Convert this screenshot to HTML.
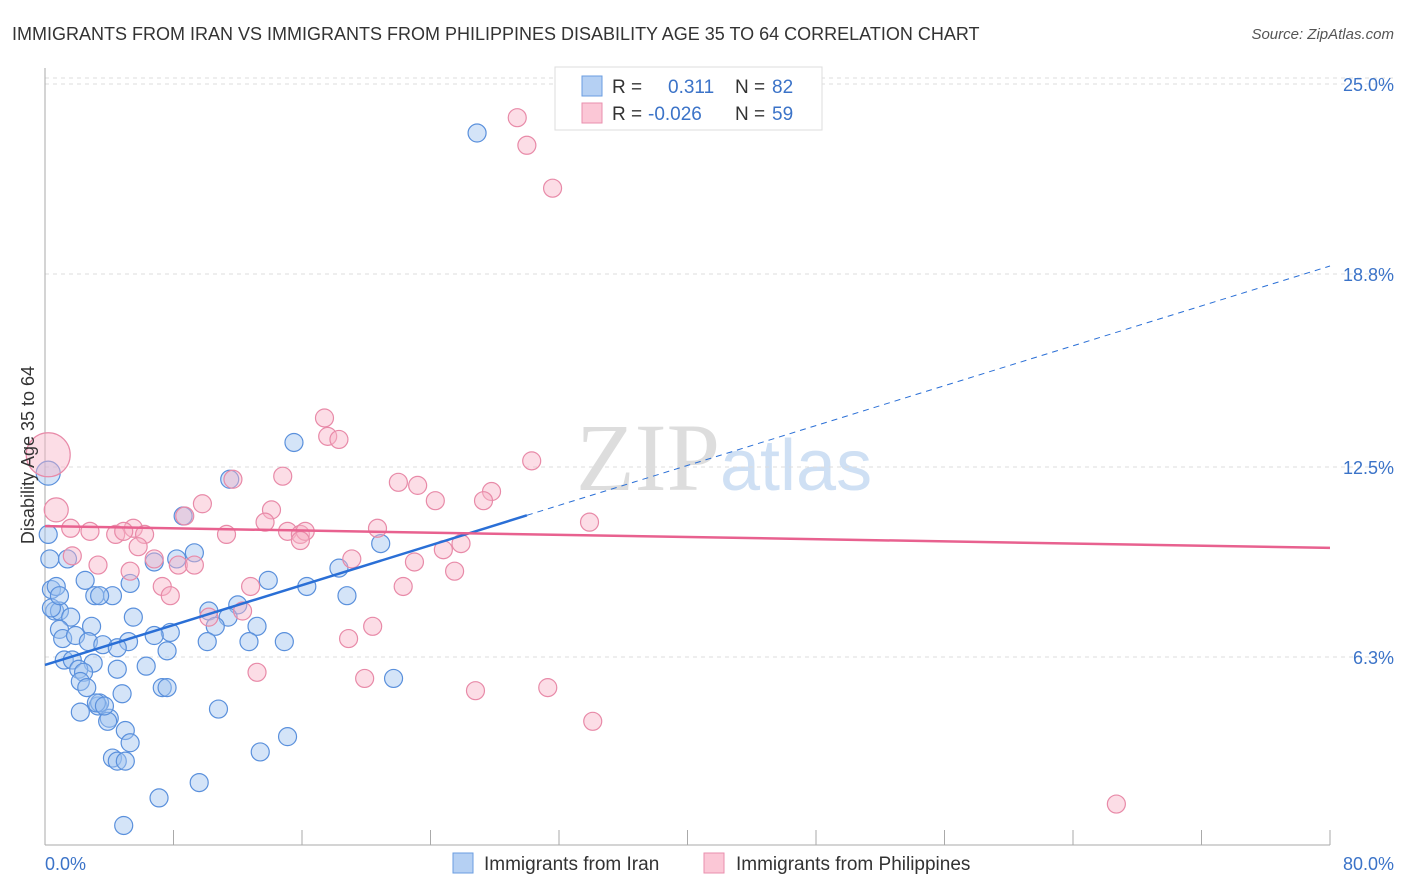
<!DOCTYPE html>
<html><head><meta charset="utf-8"><style>
body{margin:0;background:#fff;font-family:"Liberation Sans",sans-serif}
svg{display:block}
</style></head><body>
<svg id="chart" width="1406" height="892" xmlns="http://www.w3.org/2000/svg">
<text x="12" y="40" font-size="18" fill="#333">IMMIGRANTS FROM IRAN VS IMMIGRANTS FROM PHILIPPINES DISABILITY AGE 35 TO 64 CORRELATION CHART</text>
<text x="1394" y="39" font-size="15" fill="#555" font-style="italic" text-anchor="end">Source: ZipAtlas.com</text>
<text x="720" y="490" font-size="96" fill="#ddd" text-anchor="end" font-family="Liberation Serif,serif">ZIP</text>
<text x="720" y="490" font-size="72" fill="#cfe0f4">atlas</text>
<g id="grid"></g><g id="axes"></g><g id="pts"></g><g id="lines"></g>
<text transform="translate(34,455) rotate(-90)" font-size="18" fill="#333" text-anchor="middle">Disability Age 35 to 64</text>
<text x="45" y="870" font-size="18" fill="#3b73c8">0.0%</text>
<text x="1394" y="870" font-size="18" fill="#3b73c8" text-anchor="end">80.0%</text>
<g>
<rect x="555" y="67" width="267" height="63" fill="#fff" stroke="#ddd"/>
<rect x="582" y="76" width="20" height="20" fill="#b5d0f3" stroke="#6a9de0"/>
<rect x="582" y="103" width="20" height="20" fill="#fbc7d6" stroke="#ea8fae"/>
<text x="612" y="93" font-size="19" fill="#333">R = </text><text x="668" y="93" font-size="19" fill="#3b73c8">0.311</text>
<text x="735" y="93" font-size="19" fill="#333">N = </text><text x="772" y="93" font-size="19" fill="#3b73c8">82</text>
<text x="612" y="120" font-size="19" fill="#333">R = </text><text x="648" y="120" font-size="19" fill="#3b73c8">-0.026</text>
<text x="735" y="120" font-size="19" fill="#333">N = </text><text x="772" y="120" font-size="19" fill="#3b73c8">59</text>
</g>
<g>
<rect x="453" y="853" width="20" height="20" fill="#b5d0f3" stroke="#6a9de0"/>
<text x="484" y="870" font-size="19" fill="#333">Immigrants from Iran</text>
<rect x="704" y="853" width="20" height="20" fill="#fbc7d6" stroke="#ea8fae"/>
<text x="736" y="870" font-size="19" fill="#333">Immigrants from Philippines</text>
</g>
</svg>
<script>
const yTicks=[6.3,12.5,18.8,25.0];
const xTicks=[0,8,16,24,32,40,48,56,64,72,80];
const iranX=[26.9,15.5,11.5,0.2,8.6,20.9,0.2,0.3,9.3,1.4,6.8,8.2,18.3,2.5,5.3,13.9,16.3,0.4,0.7,3.1,4.2,3.4,18.8,12.0,10.2,5.5,0.6,0.9,1.6,11.4,2.9,10.6,13.2,0.9,7.8,6.8,1.1,1.9,2.7,5.2,3.6,4.5,10.1,12.7,14.9,7.6,1.2,1.7,3.0,6.3,4.5,2.1,2.4,21.7,2.2,2.6,7.3,7.6,4.8,3.3,3.4,10.8,2.2,4.0,3.9,5.0,15.1,5.3,4.2,4.5,5.0,13.4,9.6,7.1,4.9,0.4,0.9,3.2,3.7];
const iranY=[23.4,13.3,12.1,12.3,10.9,10.0,10.3,9.5,9.7,9.5,9.4,9.5,9.2,8.8,8.7,8.8,8.6,8.5,8.6,8.3,8.3,8.3,8.3,8.0,7.8,7.6,7.8,7.8,7.6,7.6,7.3,7.3,7.3,7.2,7.1,7.0,6.9,7.0,6.8,6.8,6.7,6.6,6.8,6.8,6.8,6.5,6.2,6.2,6.1,6.0,5.9,5.9,5.8,5.6,5.5,5.3,5.3,5.3,5.1,4.7,4.8,4.6,4.5,4.3,4.2,3.9,3.7,3.5,3.0,2.9,2.9,3.2,2.2,1.7,0.8,7.9,8.3,4.8,4.7];
const philX=[29.4,30.0,31.6,17.4,17.6,18.3,30.3,11.7,14.8,22.0,23.2,27.8,24.3,27.3,9.8,8.7,14.1,13.7,33.9,20.7,1.6,2.8,5.5,4.4,4.9,6.2,15.1,15.9,16.2,11.3,5.8,15.9,25.9,24.8,1.7,6.8,8.3,9.3,3.3,5.3,19.1,23.0,25.5,7.3,7.8,12.8,22.3,12.3,10.2,20.4,18.9,13.2,19.9,26.8,31.3,34.1,66.7,0.7,0.2];
const philY=[23.9,23.0,21.6,14.1,13.5,13.4,12.7,12.1,12.2,12.0,11.9,11.7,11.4,11.4,11.3,10.9,11.1,10.7,10.7,10.5,10.5,10.4,10.5,10.3,10.4,10.3,10.4,10.3,10.4,10.3,9.9,10.1,10.0,9.8,9.6,9.5,9.3,9.3,9.3,9.1,9.5,9.4,9.1,8.6,8.3,8.6,8.6,7.8,7.6,7.3,6.9,5.8,5.6,5.2,5.3,4.2,1.5,11.1,12.9];
const iranTrend=[6.04,30.0,19.06];
const philTrend=[10.57,9.86];
const NS="http://www.w3.org/2000/svg";
const X=v=>45+v/80*1285, Y=v=>850-v*30.64;
function mk(t,a,p){const e=document.createElementNS(NS,t);for(const k in a)e.setAttribute(k,a[k]);p.appendChild(e);return e;}
const grid=document.getElementById('grid'),axes=document.getElementById('axes'),pts=document.getElementById('pts'),lines=document.getElementById('lines');
mk('line',{x1:45,x2:1394,y1:78,y2:78,stroke:'#ddd','stroke-dasharray':'4,4'},grid);
yTicks.forEach(t=>{const l=mk('line',{x1:45,x2:1394,y1:Y(t),y2:Y(t),stroke:'#ddd','stroke-dasharray':'4,4'},grid);


const tx=mk('text',{x:1394,y:Y(t)+7,'font-size':18,fill:'#3b73c8','text-anchor':'end'},grid);tx.textContent=t.toFixed(1)+'%';

});
mk('line',{x1:45,x2:45,y1:68,y2:845,stroke:'#aaa'},axes);
mk('line',{x1:45,x2:1330,y1:845,y2:845,stroke:'#aaa'},axes);
xTicks.forEach(t=>{const l=mk('line',{x1:X(t),x2:X(t),y1:830,y2:845,stroke:'#aaa'},axes);

});
function dots(xs,ys,fill,stroke,name){xs.forEach((x,i)=>{let r=9;if(name==='phil-point'&&i===xs.length-1)r=22;if(name==='phil-point'&&i===xs.length-2)r=12;if(name==='iran-point'&&i===3)r=12;
const c=mk('circle',{cx:X(x),cy:Y(ys[i]),r:r,fill:fill,stroke:stroke,'stroke-width':1.2},pts);

});}
dots(iranX,iranY,'rgba(160,196,240,0.45)','#5a90dc','iran-point');
dots(philX,philY,'rgba(248,180,200,0.45)','#e88aa8','phil-point');
const slope=(iranTrend[2]-iranTrend[0])/80;
const b1=mk('line',{x1:X(0),y1:Y(iranTrend[0]),x2:X(iranTrend[1]),y2:Y(iranTrend[0]+slope*iranTrend[1]),stroke:'#2a6fd6','stroke-width':2.5},lines);


const b2=mk('line',{x1:X(iranTrend[1]),y1:Y(iranTrend[0]+slope*iranTrend[1]),x2:X(80),y2:Y(iranTrend[2]),stroke:'#2a6fd6','stroke-width':1,'stroke-dasharray':'6,5'},lines);


const p1=mk('line',{x1:X(0),y1:Y(philTrend[0]),x2:X(80),y2:Y(philTrend[1]),stroke:'#e8618f','stroke-width':2.5},lines);


</script>
</body></html>
